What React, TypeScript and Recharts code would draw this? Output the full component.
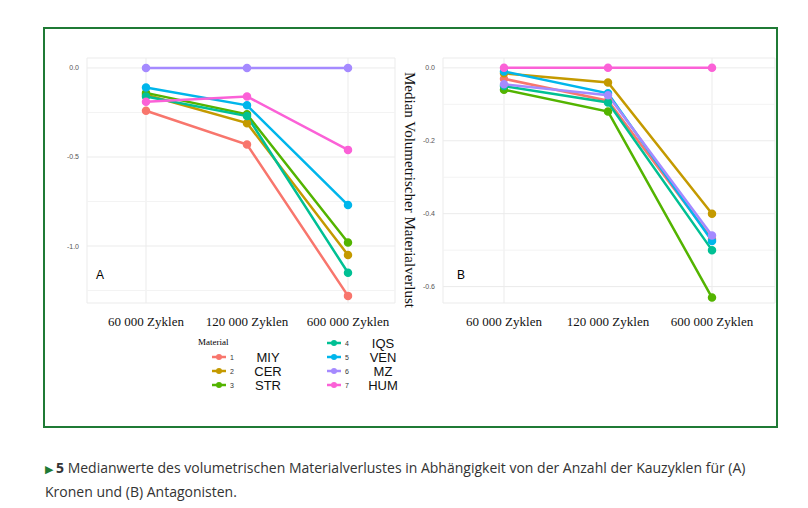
import React from "react";
import { LineChart, Line, XAxis, YAxis, CartesianGrid, ReferenceLine } from "recharts";

const categories = ["60 000 Zyklen", "120 000 Zyklen", "600 000 Zyklen"];
const materials = ["MIY", "CER", "STR", "IQS", "VEN", "MZ", "HUM"];
const colors = ["#F8766D", "#C49A00", "#53B400", "#00C094", "#00B6EB", "#A58AFF", "#FB61D7"];

const crownMIY = [-0.24, -0.43, -1.28];
const crownCER = [-0.15, -0.31, -1.05];
const crownSTR = [-0.14, -0.26, -0.98];
const crownIQS = [-0.16, -0.27, -1.15];
const crownVEN = [-0.11, -0.21, -0.77];
const crownMZ = [0, 0, 0];
const crownHUM = [-0.19, -0.16, -0.46];

const antMIY = [-0.03, -0.09, -0.47];
const antCER = [-0.015, -0.04, -0.4];
const antSTR = [-0.06, -0.12, -0.63];
const antIQS = [-0.05, -0.095, -0.5];
const antVEN = [-0.01, -0.07, -0.475];
const antMZ = [-0.045, -0.075, -0.46];
const antHUM = [0, 0, 0];

const ticksA = [0, -0.5, -1];
const minorA = [-0.25, -0.75, -1.25];
const ticksB = [0, -0.2, -0.4, -0.6];
const minorB = [-0.1, -0.3, -0.5];

const build = (series: number[][]) =>
  categories.map((c, i) => {
    const row: any = { cat: c };
    materials.forEach((m, j) => (row[m] = series[j][i]));
    return row;
  });

const dataA = build([crownMIY, crownCER, crownSTR, crownIQS, crownVEN, crownMZ, crownHUM]);
const dataB = build([antMIY, antCER, antSTR, antIQS, antVEN, antMZ, antHUM]);

const Panel = ({ data, ticks, minor, domain, fmt, padding, label, left, width, yw }: any) => (
  <div style={{ position: "absolute", left, top: 40 }}>
    <LineChart width={width} height={310} data={data} margin={{ top: 18, right: 5, bottom: 17, left: 0 }}>
      <CartesianGrid stroke="#ebebeb" vertical={true} horizontal={true} />
      {minor.map((v: number) => (
        <ReferenceLine key={v} y={v} stroke="#f3f3f3" />
      ))}
      <XAxis dataKey="cat" padding={padding} axisLine={false} tickLine={false}
        tick={{ fill: "#111", fontSize: 13, fontFamily: "Liberation Serif" }} tickMargin={8} />
      <YAxis domain={domain} ticks={ticks} width={yw} axisLine={false} tickLine={false}
        tickFormatter={fmt} tick={{ fill: "#555", fontSize: 7, fontFamily: "Liberation Sans" }} allowDataOverflow />
      {materials.map((m, i) => (
        <Line key={m} dataKey={m} stroke={colors[i]} strokeWidth={2.5} isAnimationActive={false}
          dot={{ r: 3, fill: colors[i], stroke: colors[i] }} />
      ))}
    </LineChart>
    <div style={{ position: "absolute", left: label[1], top: 228, fontFamily: "Liberation Sans", fontSize: 12 }}>{label[0]}</div>
  </div>
);

export default function App() {
  return (
    <div style={{ position: "absolute", left: 0, top: 0, width: 808, height: 508, background: "#fff" }}>
      <div style={{ position: "absolute", left: 43, top: 27, width: 731, height: 397, border: "2px solid #1f7a35" }} />
      <Panel data={dataA} ticks={ticksA} minor={minorA} domain={[-1.32, 0.056]} fmt={(v: number) => v.toFixed(1)}
        padding={{ left: 59, right: 47 }} label={["A", 51]} left={45} width={355} yw={42} />
      <Panel data={dataB} ticks={ticksB} minor={minorB} domain={[-0.645, 0.027]} fmt={(v: number) => v.toFixed(1)}
        padding={{ left: 61, right: 63 }} label={["B", 54]} left={403} width={377} yw={40} />
      <div style={{ position: "absolute", left: 409, top: 190, transform: "translate(-50%,-50%) rotate(90deg)",
        whiteSpace: "nowrap", fontFamily: "Liberation Serif", fontSize: 15, color: "#111" }}>
        Median Volumetrischer Materialverlust
      </div>
      <div style={{ position: "absolute", left: 198, top: 337, fontFamily: "Liberation Serif", fontSize: 9 }}>Material</div>
      {materials.map((m, i) => {
        const col = i < 3 ? 0 : 1;
        const row = i < 3 ? i + 1 : i - 3;
        const x = col === 0 ? 212 : 327;
        const y = 336 + row * 14;
        return (
          <div key={m} style={{ position: "absolute", left: x, top: y, height: 14, display: "flex", alignItems: "center" }}>
            <svg width={14} height={8}><line x1={0} y1={4} x2={14} y2={4} stroke={colors[i]} strokeWidth={2.5} /><circle cx={7} cy={4} r={3} fill={colors[i]} /></svg>
            <span style={{ fontFamily: "Liberation Sans", fontSize: 7, color: "#333", marginLeft: 4, width: 18 }}>{i + 1}</span>
            <span style={{ fontFamily: "Liberation Sans", fontSize: 13, color: "#111", width: 40, textAlign: "center" }}>{m}</span>
          </div>
        );
      })}
      <div style={{ position: "absolute", left: 45, top: 456, width: 720, fontFamily: "Open Sans", fontSize: 14, lineHeight: "23px", color: "#333" }}>
        <span style={{ color: "#1f7a35", fontSize: 11, marginRight: 3 }}>▶</span><b>5</b> Medianwerte des volumetrischen Materialverlustes in Abhängigkeit von der Anzahl der Kauzyklen für (A) Kronen und (B) Antagonisten.
      </div>
    </div>
  );
}
